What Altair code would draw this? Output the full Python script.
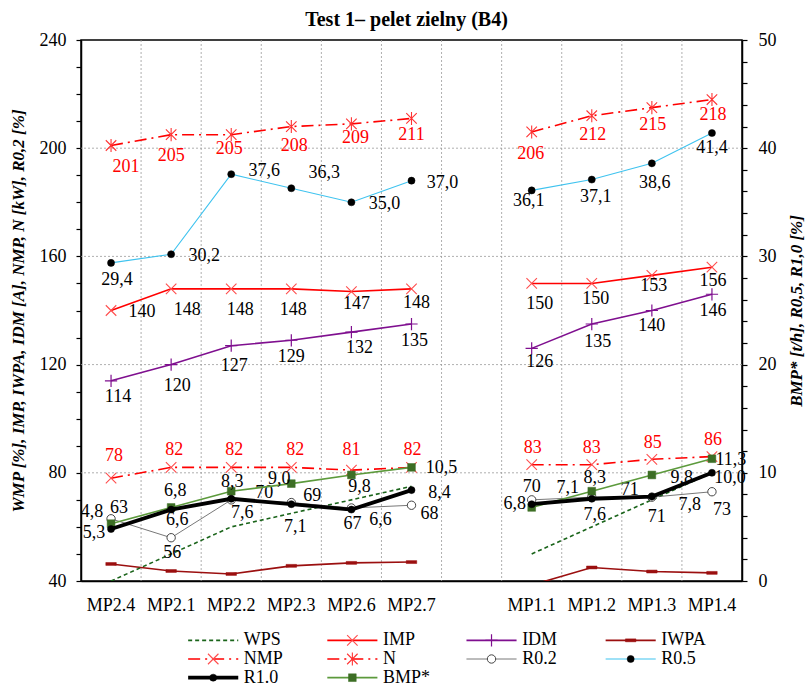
import altair as alt
import pandas as pd

FONT = "Times New Roman, Liberation Serif, serif"

# ---------------- data ----------------
cats_a = ["MP2.4", "MP2.1", "MP2.2", "MP2.3", "MP2.6", "MP2.7"]
cats_b = ["MP1.1", "MP1.2", "MP1.3", "MP1.4"]
gap_cat = [" "]
categories = cats_a + cats_b

# left axis series
WPS = [40, 50, 60, 65, 70, 75, 50, 60, 70, 80]
IMP = [140, 148, 148, 148, 147, 148, 150, 150, 153, 156]
IDM = [114, 120, 127, 129, 132, 135, 126, 135, 140, 146]
IWPA = [46.3, 43.7, 42.6, 45.6, 46.7, 47.0, 38.5, 45.0, 43.5, 43.0]
NMP = [78, 82, 82, 82, 81, 82, 83, 83, 85, 86]
N = [201, 205, 205, 208, 209, 211, 206, 212, 215, 218]
R02 = [63, 56, 70, 69, 67, 68, 70, 71, 71, 73]
# right axis series
R05 = [29.4, 30.2, 37.6, 36.3, 35.0, 37.0, 36.1, 37.1, 38.6, 41.4]
R10 = [4.8, 6.6, 7.6, 7.1, 6.6, 8.4, 7.1, 7.6, 7.8, 10.0]
BMP = [5.3, 6.8, 8.3, 9.0, 9.8, 10.5, 6.8, 8.3, 9.8, 11.3]

left_ticks = list(range(40, 241, 10))
right_ticks = list(range(0, 51, 2))
hgrid_values = [80, 120, 160, 200]

TITLE = "Test 1– pelet zielny  (B4)"
YL_TITLE = "WMP [%], IMP, IWPA, IDM [A], NMP, N [kW], R0,2 [%]"
YR_TITLE = "BMP* [t/h], R0,5, R1,0 [%]"

# label offsets (pixels) for value annotations
LABEL_OFFSETS = {
    "N":    [(15, 22), (0, 21), (-2, 14), (3, 19), (4, 14), (0, 17), (-1, 22), (1, 19), (1, 17), (1, 15)],
    "NMP":  [(3, -22), (3, -17), (3, -17), (4, -17), (0, -20), (1, -17), (1, -17), (0, -17), (1, -16), (1, -17)],
    "IMP":  [(31, 1), (16, 21), (9, 21), (2, 21), (5, 12), (5, 14), (8, 21), (4, 16), (2, 11), (1, 14)],
    "IDM":  [(7, 16), (6, 21), (3, 20), (0, 17), (8, 16), (3, 17), (8, 14), (6, 18), (0, 15), (1, 17)],
    "R0.2": [(8, -11), (1, 15), (33, -7), (21, -7), (1, 16), (18, 9), (0, -13), (38, -7), (5, 20), (10, 18)],
    "R0.5": [(6, 17), (33, 2), (33, -3), (33, -15), (33, 2), (31, 2), (-3, 11), (4, 17), (3, 20), (0, 15)],
    "R1.0": [(-19, -17), (6, 10), (11, 14), (4, 23), (29, 10), (28, 3), (36, -16), (3, 16), (38, 8), (18, 5)],
    "BMP*": [(-17, 9), (4, -16), (1, -9), (-12, -5), (8, 12), (30, 1), (-17, -3), (3, -13), (30, 3), (19, 1)],
}

# ---------------- styles ----------------
P_X = "M-1,-1L1,1M-1,1L1,-1"
P_AST = "M-1,-1L1,1M-1,1L1,-1M0,-1.25L0,1.25"
P_PLUS = "M-1,0L1,0M0,-1L0,1"
P_BAR = "M-1,-0.28L1,-0.28L1,0.28L-1,0.28Z"

STYLE = {
    "WPS":  dict(color="#1a641a", width=1.6, dash=[4, 3], marker=None),
    "IMP":  dict(color="#ff0000", width=1.6, dash=None,
                 marker=dict(shape=P_X, size=110, filled=False, stroke="#ff4d4d", sw=1.1)),
    "IDM":  dict(color="#7f0f8f", width=1.6, dash=None,
                 marker=dict(shape=P_PLUS, size=150, filled=False, stroke="#7f0f8f", sw=1.2)),
    "IWPA": dict(color="#9b0f0f", width=1.6, dash=None,
                 marker=dict(shape=P_BAR, size=110, filled=True, fill="#9b0f0f", stroke="#9b0f0f", sw=0.5)),
    "NMP":  dict(color="#ff0000", width=1.6, dash=[12, 5, 2, 5],
                 marker=dict(shape=P_X, size=110, filled=False, stroke="#ff4d4d", sw=1.1)),
    "N":    dict(color="#ff0000", width=1.6, dash=[12, 5, 2, 5],
                 marker=dict(shape=P_AST, size=110, filled=False, stroke="#ff3333", sw=1.1)),
    "R0.2": dict(color="#555555", width=0.8, dash=None,
                 marker=dict(shape="circle", size=70, filled=True, fill="white", stroke="#444444", sw=1.0)),
    "R0.5": dict(color="#3fc3ef", width=1.1, dash=None,
                 marker=dict(shape="circle", size=50, filled=True, fill="black", stroke="black", sw=0.5)),
    "R1.0": dict(color="black", width=3.8, dash=None,
                 marker=dict(shape="circle", size=50, filled=True, fill="black", stroke="black", sw=0.5)),
    "BMP*": dict(color="#5c9a3c", width=1.6, dash=None,
                 marker=dict(shape="square", size=60, filled=True, fill="#3d6e25", stroke="#3d6e25", sw=0.5)),
}
LABEL_COLOR = {"N": "#ff0000", "NMP": "#ff0000"}

LEFT_SERIES = [("IWPA", IWPA), ("WPS", WPS), ("IMP", IMP), ("IDM", IDM),
               ("NMP", NMP), ("N", N), ("R0.2", R02)]
RIGHT_SERIES = [("R0.5", R05), ("BMP*", BMP), ("R1.0", R10)]
LEGEND_ORDER = ["WPS", "IMP", "IDM", "IWPA", "NMP", "N", "R0.2", "R0.5", "R1.0", "BMP*"]


def make_df(name, values):
    return pd.DataFrame({
        "cat": categories,
        "val": values,
        "part": ["A"] * len(cats_a) + ["B"] * len(cats_b),
        "i": list(range(len(categories))),
        "series": name,
    })


xscale = alt.Scale(type="band", domain=cats_a + gap_cat + cats_b, paddingInner=0, paddingOuter=0)
xaxis = alt.Axis(title=None, labelFont=FONT, labelFontSize=18, labelColor="black", labelAngle=0,
                 ticks=False, grid=False, domainColor="black", domainWidth=1.5, labelPadding=15)
X = alt.X("cat:N", scale=xscale, axis=xaxis, sort=None)

yl_axis = alt.Axis(values=left_ticks, labelExpr="datum.value % 40 === 0 ? datum.label : ''",
                   title=YL_TITLE, titleFont=FONT, titleFontSize=17, titleFontStyle="italic",
                   titleFontWeight="bold", titleColor="black", labelFont=FONT, labelFontSize=18,
                   labelColor="black", tickColor="black", tickSize=5, tickWidth=1.2, labelPadding=10,
                   domainColor="black", domainWidth=1.5, grid=False, titlePadding=12, labelOverlap=False)
yr_axis = alt.Axis(values=right_ticks, labelExpr="datum.value % 10 === 0 ? datum.label : ''",
                   orient="right", title=YR_TITLE, titleAngle=270, titleBaseline="top",
                   titleFont=FONT, titleFontSize=17, titleFontStyle="italic",
                   titleFontWeight="bold", titleColor="black", labelFont=FONT, labelFontSize=18,
                   labelColor="black", tickColor="black", tickSize=5, tickWidth=1.2, labelPadding=11,
                   domainColor="black", domainWidth=1.5, grid=False, titlePadding=12, labelOverlap=False)
YL = alt.Y("val:Q", scale=alt.Scale(domain=[40, 240], nice=False, zero=False), axis=yl_axis)
YR = alt.Y("val:Q", scale=alt.Scale(domain=[0, 50], nice=False, zero=False), axis=yr_axis)


def fmt(name, v):
    if name in ("R0.5", "R1.0", "BMP*"):
        return f"{v:.1f}".replace(".", ",")
    return str(int(round(v)))


def series_layers(name, values, yenc):
    st = STYLE[name]
    df = make_df(name, values)
    base = alt.Chart(df)
    kw = dict(color=st["color"], strokeWidth=st["width"], clip=True)
    if st["dash"]:
        kw["strokeDash"] = st["dash"]
    layers = [base.mark_line(**kw).encode(x=X, y=yenc, detail="part:N")]
    m = st["marker"]
    if m:
        pk = dict(shape=m["shape"], size=m["size"], filled=m["filled"], stroke=m["stroke"],
                  strokeWidth=m["sw"], opacity=1, clip=True)
        if m.get("fill"):
            pk["fill"] = m["fill"]
        layers.append(base.mark_point(**pk).encode(x=X, y=yenc))
    if name in LABEL_OFFSETS:
        for k, (dx, dy) in enumerate(LABEL_OFFSETS[name]):
            lab = fmt(name, values[k])
            layers.append(
                base.transform_filter(alt.datum.i == k)
                .mark_text(dx=dx, dy=dy, font=FONT, fontSize=18,
                           color=LABEL_COLOR.get(name, "black"), baseline="middle", align="center")
                .encode(x=X, y=yenc, text=alt.value(lab))
            )
    return layers


# gridlines
vgrid_df = pd.DataFrame({"cat": cats_a[1:] + gap_cat + cats_b})
vgrid = alt.Chart(vgrid_df).mark_rule(color="#9a9a9a", strokeDash=[2, 2], strokeWidth=0.8).encode(
    x=alt.X("cat:N", scale=xscale, axis=xaxis, bandPosition=0, sort=None))
hgrid_df = pd.DataFrame({"val": hgrid_values})
hgrid = alt.Chart(hgrid_df).mark_rule(color="#9a9a9a", strokeDash=[2, 2], strokeWidth=0.8).encode(y=YL)

left_layers = [vgrid, hgrid]
for nm, vals in LEFT_SERIES:
    left_layers += series_layers(nm, vals, YL)
right_layers = []
for nm, vals in RIGHT_SERIES:
    right_layers += series_layers(nm, vals, YR)

main = alt.layer(alt.layer(*left_layers), alt.layer(*right_layers)).resolve_scale(
    y="independent").properties(width=661, height=541,
                                view=alt.ViewBackground(stroke="black", strokeWidth=1.5))

# ---------------- legend (built from the series names) ----------------
leg_df = pd.DataFrame({"name": LEGEND_ORDER})
leg_df["col"] = [i % 4 for i in range(len(LEGEND_ORDER))]
leg_df["row"] = [i // 4 for i in range(len(LEGEND_ORDER))]
leg_df["x0"] = leg_df["col"]
leg_df["x1"] = leg_df["col"] + 0.36
leg_df["xm"] = leg_df["col"] + 0.18
leg_df["xt"] = leg_df["col"] + 0.40

lxs = alt.Scale(domain=[-0.77, 3.98], nice=False, zero=False)
lys = alt.Scale(domain=[2.5, -0.5], nice=False, zero=False)
lbase = alt.Chart(leg_df)
leg_layers = []
for nm in LEGEND_ORDER:
    st = STYLE[nm]
    b = lbase.transform_filter(alt.datum.name == nm)
    kw = dict(color=st["color"], strokeWidth=st["width"])
    if st["dash"]:
        kw["strokeDash"] = st["dash"]
    leg_layers.append(b.mark_rule(**kw).encode(
        x=alt.X("x0:Q", scale=lxs, axis=None), x2="x1:Q", y=alt.Y("row:Q", scale=lys, axis=None)))
    m = st["marker"]
    if m:
        pk = dict(shape=m["shape"], size=m["size"], filled=m["filled"], stroke=m["stroke"],
                  strokeWidth=m["sw"], opacity=1)
        if m.get("fill"):
            pk["fill"] = m["fill"]
        leg_layers.append(b.mark_point(**pk).encode(
            x=alt.X("xm:Q", scale=lxs, axis=None), y=alt.Y("row:Q", scale=lys, axis=None)))
    leg_layers.append(b.mark_text(align="left", baseline="middle", font=FONT, fontSize=18,
                                  color="black", dx=0).encode(
        x=alt.X("xt:Q", scale=lxs, axis=None), y=alt.Y("row:Q", scale=lys, axis=None),
        text="name:N"))

legend = alt.layer(*leg_layers).properties(width=661, height=56,
                                           view=alt.ViewBackground(stroke="transparent"))

chart = alt.vconcat(main, legend, spacing=16).properties(
    title=alt.TitleParams(TITLE, font=FONT, fontSize=20, fontWeight="bold", color="black",
                          anchor="middle", offset=8, dy=8),
    padding={"left": 8, "top": 10, "right": 0, "bottom": 0},
).configure_view(strokeWidth=0)

chart.save("out.html", embed_options={"renderer": "svg", "actions": False})
